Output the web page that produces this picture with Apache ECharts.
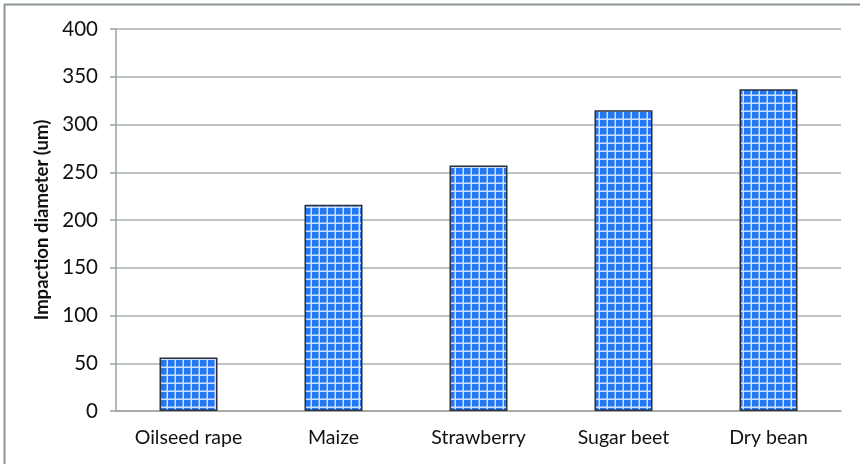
<!DOCTYPE html>
<html>
<head>
<meta charset="utf-8">
<script src="https://cdn.jsdelivr.net/npm/echarts@6/dist/echarts.min.js"></script>
<style>
  html, body { margin: 0; padding: 0; background: #ffffff; }
  #chart { width: 860px; height: 464px; }
</style>
</head>
<body>
<div id="chart"></div>
<script>
// Crop names and measured impaction diameters (µm)
const crops = ['Oilseed rape', 'Maize', 'Strawberry', 'Sugar beet', 'Dry bean'];
const diameters = [56, 216, 257, 315, 337];
const yTicks = { min: 0, max: 400, interval: 50 };

// Blue tile with white grid lines, used as a repeating bar fill
function gridPattern() {
  const c = document.createElement('canvas');
  c.width = 8; c.height = 8;
  const g = c.getContext('2d');
  g.fillStyle = '#2376f4';
  g.fillRect(0, 0, 8, 8);
  g.fillStyle = '#cfe1fb';
  g.fillRect(6.5, 0, 1.5, 8);
  g.fillRect(0, 6.5, 8, 1.5);
  return c;
}

const chart = echarts.init(document.getElementById('chart'), null, { renderer: 'canvas' });
const font = 'Lato';

chart.setOption({
  animation: false,
  backgroundColor: '#ffffff',
  textStyle: { fontFamily: font },
  graphic: [{
    type: 'rect',
    shape: { x: 4.5, y: 4.5, width: 900, height: 600 },
    style: { fill: 'none', stroke: '#8c9696', lineWidth: 2 },
    silent: true
  }],
  grid: { left: 116, right: 19, top: 29, bottom: 53 },
  xAxis: {
    type: 'category',
    data: crops,
    axisLine: { show: true, lineStyle: { color: '#9aa3a3', width: 1.5 } },
    axisTick: { show: false },
    axisLabel: { color: '#111', fontSize: 19.5, fontFamily: font, margin: 17 }
  },
  yAxis: {
    type: 'value',
    min: yTicks.min, max: yTicks.max, interval: yTicks.interval,
    name: 'Impaction diameter (um)',
    nameLocation: 'middle',
    nameGap: 63,
    nameTextStyle: { color: '#111', fontSize: 18.5, fontWeight: 'bold', fontFamily: font },
    axisLine: { show: true, lineStyle: { color: '#9aa3a3', width: 1.5 } },
    axisTick: { show: true, length: 6, lineStyle: { color: '#9aa3a3', width: 1.5 } },
    axisLabel: { color: '#111', fontSize: 20.5, fontFamily: font, margin: 18 },
    splitLine: { show: true, lineStyle: { color: '#a7b0b0', width: 1.5 } }
  },
  series: [{
    type: 'bar',
    data: diameters,
    barWidth: '40%',
    itemStyle: {
      color: { image: gridPattern(), repeat: 'repeat' },
      borderColor: '#2a2f3a',
      borderWidth: 1.5
    }
  }]
});
</script>
</body>
</html>
